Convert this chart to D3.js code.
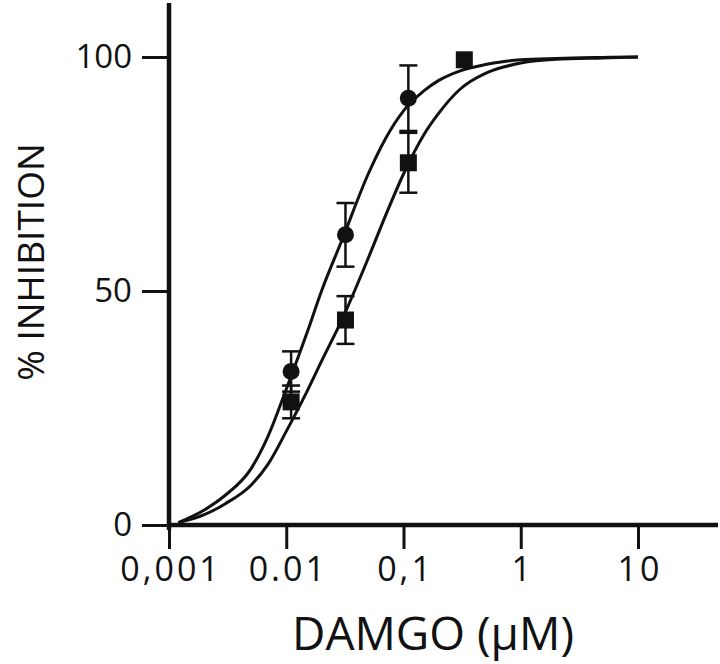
<!DOCTYPE html>
<html>
<head>
<meta charset="utf-8">
<script src="https://cdn.jsdelivr.net/npm/d3@7"></script>
<style>
body { margin: 0; background: #fff; }
text { font-family: "Open Sans", sans-serif; fill: #111; }
</style>
</head>
<body>
<svg id="chart" width="720" height="664"></svg>
<script>
// measured points (filled circles / filled squares)
var dose_circle = [0.011, 0.032, 0.11];
var inhib_circle = [32.8, 62, 91.2];
var err_circle = [4.3, 6.8, 7];

var dose_square = [0.011, 0.032, 0.11, 0.33];
var inhib_square = [26.3, 43.8, 77.4, 99.4];
var err_square = [3.5, 5.1, 6.4, 0];

// fitted curves
var curve_dose = [0.0012, 0.002, 0.003, 0.005, 0.007, 0.01, 0.015, 0.02, 0.03, 0.05, 0.07,
                  0.1, 0.15, 0.2, 0.3, 0.5, 0.7, 1, 2, 5, 10];
var curve_circle = [0.5, 3.2, 6.3, 12, 19, 29, 41, 50, 61, 75, 82.5,
                    88.5, 92.8, 95, 97, 98.4, 99, 99.4, 99.7, 99.9, 100];
var curve_square = [0.5, 2.2, 4.5, 8.5, 13, 20, 28.5, 35, 44, 57, 66,
                    75, 83.5, 88, 93, 96.5, 97.8, 98.7, 99.5, 99.8, 100];

var x_ticks = [0.001, 0.01, 0.1, 1, 10];
var x_tick_labels = ['0,001', '0.01', '0,1', '1', '10'];
var y_ticks = [0, 50, 100];

var svg = d3.select('#chart');

var x = d3.scaleLog().domain([0.001, 10]).range([169, 638]);
var y = d3.scaleLinear().domain([0, 100]).range([525, 57]);

// x axis
var gx = svg.append('g')
    .attr('transform', 'translate(0,525)')
    .call(d3.axisBottom(x)
        .tickValues(x_ticks)
        .tickFormat(function(d, i) { return x_tick_labels[i]; })
        .tickSize(24)
        .tickSizeOuter(0)
        .tickPadding(8));
gx.select('.domain').remove();
gx.selectAll('.tick line').attr('stroke', '#111').attr('stroke-width', 3);
gx.selectAll('.tick text')
    .attr('font-size', 34)
    .attr('letter-spacing', 3)
    .attr('dx', 1.5)
    .attr('fill', '#111');

// y axis
var gy = svg.append('g')
    .attr('transform', 'translate(169,0)')
    .call(d3.axisLeft(y)
        .tickValues(y_ticks)
        .tickSize(27)
        .tickSizeOuter(0)
        .tickPadding(10));
gy.select('.domain').remove();
gy.selectAll('.tick line').attr('stroke', '#111').attr('stroke-width', 3);
gy.selectAll('.tick text').attr('font-size', 33).attr('fill', '#111');

// axis lines
svg.append('line')
    .attr('x1', 167).attr('x2', 718)
    .attr('y1', 525).attr('y2', 525)
    .attr('stroke', '#111').attr('stroke-width', 4.5);
svg.append('line')
    .attr('x1', 169).attr('x2', 169)
    .attr('y1', 3).attr('y2', 530)
    .attr('stroke', '#111').attr('stroke-width', 4.5);

// curves
var line = d3.line()
    .x(function(d) { return x(d[0]); })
    .y(function(d) { return y(d[1]); })
    .curve(d3.curveMonotoneX);

[curve_circle, curve_square].forEach(function(vals) {
    svg.append('path')
        .datum(curve_dose.map(function(d, i) { return [d, vals[i]]; }))
        .attr('fill', 'none')
        .attr('stroke', '#111')
        .attr('stroke-width', 3)
        .attr('d', line);
});

// error bars
function errorBars(doses, vals, errs) {
    var g = svg.append('g')
        .attr('stroke', '#111')
        .attr('stroke-width', 2.5);
    doses.forEach(function(d, i) {
        if (errs[i] <= 0) return;
        var cx = x(d);
        var top = y(vals[i] + errs[i]);
        var bot = y(vals[i] - errs[i]);
        g.append('line').attr('x1', cx).attr('x2', cx).attr('y1', top).attr('y2', bot);
        g.append('line').attr('x1', cx - 9).attr('x2', cx + 9).attr('y1', top).attr('y2', top);
        g.append('line').attr('x1', cx - 9).attr('x2', cx + 9).attr('y1', bot).attr('y2', bot);
    });
}
errorBars(dose_circle, inhib_circle, err_circle);
errorBars(dose_square, inhib_square, err_square);

// markers
svg.append('g')
    .selectAll('circle')
    .data(dose_circle)
  .enter()
    .append('circle')
    .attr('cx', function(d) { return x(d); })
    .attr('cy', function(d, i) { return y(inhib_circle[i]); })
    .attr('r', 8.5)
    .attr('fill', '#111');

svg.append('g')
    .selectAll('rect')
    .data(dose_square)
  .enter()
    .append('rect')
    .attr('x', function(d) { return x(d) - 8.5; })
    .attr('y', function(d, i) { return y(inhib_square[i]) - 8.5; })
    .attr('width', 17)
    .attr('height', 17)
    .attr('fill', '#111');

// axis titles
svg.append('text')
    .attr('x', 433)
    .attr('y', 650)
    .attr('text-anchor', 'middle')
    .attr('font-size', 46)
    .text('DAMGO (\u03bcM)');

svg.append('text')
    .attr('transform', 'translate(44,262) rotate(-90)')
    .attr('text-anchor', 'middle')
    .attr('font-size', 37)
    .text('% INHIBITION');
</script>
</body>
</html>
